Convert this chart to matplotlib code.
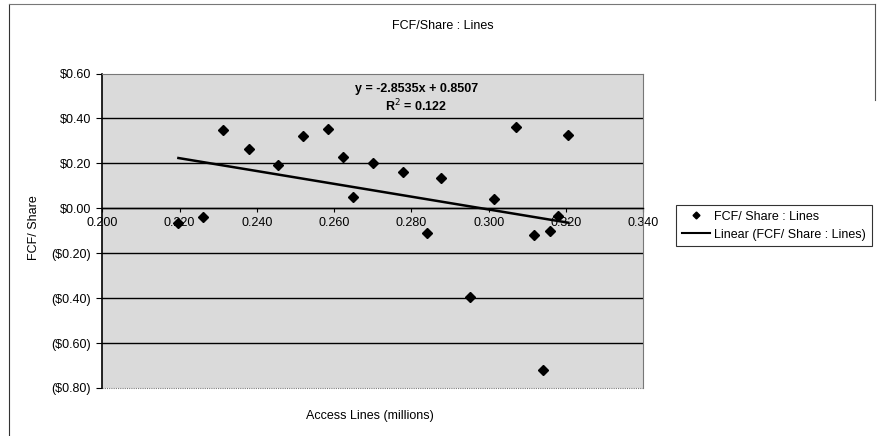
import numpy as np
from matplotlib import pyplot as plt
from matplotlib import ticker
from matplotlib.lines import Line2D

plt.rcParams["font.family"] = ["Liberation Sans", "DejaVu Sans"]

# data
access_lines = [0.2197, 0.2260, 0.2313, 0.2380, 0.2454, 0.2520, 0.2585, 0.2622,
                0.2650, 0.2701, 0.2777, 0.2839, 0.2877, 0.2952, 0.3014, 0.3071,
                0.3118, 0.3140, 0.3159, 0.3180, 0.3206]
fcf_share = [-0.065, -0.039, 0.347, 0.263, 0.193, 0.320, 0.354, 0.227,
             0.052, 0.200, 0.160, -0.109, 0.133, -0.395, 0.043, 0.363,
             -0.119, -0.720, -0.099, -0.036, 0.325]
slope = -2.8535
intercept = 0.8507
r2 = 0.122
x_ticks = [0.200, 0.220, 0.240, 0.260, 0.280, 0.300, 0.320, 0.340]
y_ticks = [0.60, 0.40, 0.20, 0.00, -0.20, -0.40, -0.60, -0.80]

fig = plt.figure(figsize=(8.78, 4.36), dpi=100)
ax = fig.add_axes([0.1165, 0.1101, 0.6162, 0.7213])
ax.set_facecolor("#dadada")

ax.set_xlim(0.200, 0.340)
ax.set_ylim(-0.80, 0.60)
ax.set_xticks(x_ticks)
ax.set_yticks(y_ticks)
ax.xaxis.set_major_formatter(ticker.FormatStrFormatter("%.3f"))


def money(v, pos):
    if v < -1e-9:
        return f"(${abs(v):.2f})"
    return f"${abs(v):.2f}"


ax.yaxis.set_major_formatter(ticker.FuncFormatter(money))

# gridlines
for yv in y_ticks[1:-1]:
    ax.axhline(yv, color="black", lw=1.0, zorder=1)

# spines
ax.spines["bottom"].set_position(("data", 0))
ax.spines["bottom"].set_color("black")
ax.spines["bottom"].set_linewidth(1.0)
ax.spines["left"].set_color("black")
ax.spines["left"].set_linewidth(1.2)
for s in ["top", "right"]:
    ax.spines[s].set_color("#777777")
    ax.spines[s].set_linestyle((0, (1, 1)))
    ax.spines[s].set_linewidth(0.8)
# dotted lower border of plot area
ax.plot([0.200, 0.340], [-0.80, -0.80], color="#777777", lw=0.8,
        ls=(0, (1, 1)), clip_on=False, zorder=2)

ax.tick_params(axis="x", direction="out", length=3, width=0.8, pad=3,
               labelsize=9)
ax.tick_params(axis="y", direction="out", length=4, width=0.8, pad=4,
               labelsize=9)

# scatter
sc, = ax.plot(access_lines, fcf_share, ls="none", marker="D", ms=5.5,
              color="black", zorder=4, label="FCF/ Share : Lines")

# linear trendline
xs = np.array([min(access_lines), max(access_lines)])
tl, = ax.plot(xs, slope * xs + intercept, color="black", lw=1.8, zorder=3,
              label="Linear (FCF/ Share : Lines)")

ax.text(0.2812, 0.533, f"y = {slope:.4f}x + {intercept:.4f}", ha="center",
        va="center", fontsize=9, fontweight="bold")
ax.text(0.2812, 0.457, f"R$^2$ = {r2:.3f}", ha="center", va="center",
        fontsize=9, fontweight="bold")

ax.set_xlabel("Access Lines (millions)", fontsize=9, labelpad=0)
ax.xaxis.set_label_coords(0.495, -0.07)
ax.set_ylabel("FCF/ Share", fontsize=9)
ax.yaxis.set_label_coords(-0.116, 0.509)

fig.suptitle("FCF/Share : Lines", x=0.504, y=0.955, fontsize=9)

handles = [Line2D([], [], ls="none", marker="D", ms=3.5, color="black"),
           Line2D([], [], color="black", lw=1.5)]
leg = fig.legend(handles, [sc.get_label(), tl.get_label()], loc="upper left",
                 bbox_to_anchor=(0.770, 0.530), fontsize=9, frameon=True,
                 fancybox=False, edgecolor="black", handlelength=2.3,
                 borderpad=0.45, labelspacing=0.5, handletextpad=0.3,
                 borderaxespad=0)
leg.get_frame().set_linewidth(0.8)

# outer chart border (left and top visible in the scan)
fig.add_artist(Line2D([0.0103, 0.0103], [0.0, 0.99], color="#333333", lw=0.8))
fig.add_artist(Line2D([0.0103, 0.997], [0.99, 0.99], color="#777777", lw=0.8))
fig.add_artist(Line2D([0.997, 0.997], [0.77, 0.99], color="#555555", lw=0.8))

fig.savefig("out.png", dpi=100)
